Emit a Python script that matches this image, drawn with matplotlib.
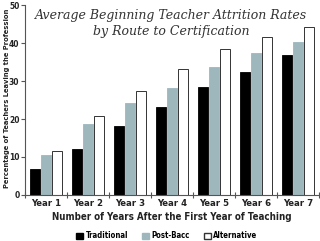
import matplotlib
matplotlib.use("Agg")
import matplotlib.pyplot as plt
import numpy as np
from matplotlib.patches import Patch

years = ["Year 1", "Year 2", "Year 3", "Year 4", "Year 5", "Year 6", "Year 7"]
traditional = [6.8, 12.1, 18.2, 23.1, 28.5, 32.3, 36.8]
post_bacc = [10.4, 18.7, 24.2, 28.2, 33.8, 37.4, 40.4]
alternative = [11.5, 20.7, 27.3, 33.1, 38.3, 41.6, 44.2]
yticks = [0, 10, 20, 30, 40, 50]

PB_COLOR = "#9db7bd"
FONT = "DejaVu Sans"
TXT = dict(family=FONT, fontweight="bold", fontstretch="condensed")

fig = plt.figure(figsize=(3.2, 2.41), dpi=100)
ax = fig.add_axes([0.078, 0.191, 0.919, 0.788])

x = np.arange(len(years))
w = 0.24
ax.bar(x - 0.27, traditional, w, color="black", edgecolor="black", linewidth=0.6)
ax.bar(x, post_bacc, w, color=PB_COLOR, edgecolor=PB_COLOR, linewidth=0.6)
ax.bar(x + 0.265, alternative, w, color="white", edgecolor="#333333", linewidth=0.7)

ax.set_xlim(-0.5, len(years) - 0.5)
ax.set_ylim(0, 50)
ax.set_yticks(yticks)
ax.set_yticklabels([str(v) for v in yticks], fontsize=6, **TXT)
ax.set_xticks(x)
ax.set_xticklabels(years, fontsize=6.8, **TXT)
ax.set_xticks(np.arange(len(years) + 1) - 0.5, minor=True)
ax.tick_params(axis="x", which="major", length=0, pad=3, colors="#222222")
ax.tick_params(axis="x", which="minor", length=4, direction="inout", color="#555555", width=0.8)
ax.tick_params(axis="y", length=3, width=0.8, color="#555555", pad=1, colors="#222222")
for s in ("top", "right"):
    ax.spines[s].set_visible(False)
for s in ("left", "bottom"):
    ax.spines[s].set_color("#555555")
    ax.spines[s].set_linewidth(0.8)

ax.set_ylabel("Percentage of Teachers Leaving the Profession", fontsize=5.4,
              labelpad=2, color="#222222", **TXT)
ax.yaxis.set_label_coords(-0.052, 0.51)
ax.set_xlabel("Number of Years After the First Year of Teaching", fontsize=7.0,
              labelpad=3, color="#222222", **TXT)

fig.text(0.535, 0.903, "Average Beginning Teacher Attrition Rates\nby Route to Certification",
         ha="center", va="center", fontsize=9, style="italic", family="DejaVu Serif",
         linespacing=1.25, color="#333333")

handles = [Patch(facecolor="black", edgecolor="black", label="Traditional"),
           Patch(facecolor=PB_COLOR, edgecolor=PB_COLOR, label="Post-Bacc"),
           Patch(facecolor="white", edgecolor="#333333", label="Alternative")]
fig.legend(handles=handles, loc="center", bbox_to_anchor=(0.522, 0.021), ncol=3, frameon=False,
           prop={"size": 5.6, "weight": "bold", "family": FONT, "stretch": "condensed"},
           handlelength=0.9, handleheight=0.9, handletextpad=0.3, columnspacing=1.8,
           borderaxespad=0)

fig.savefig("out.png", dpi=100)
